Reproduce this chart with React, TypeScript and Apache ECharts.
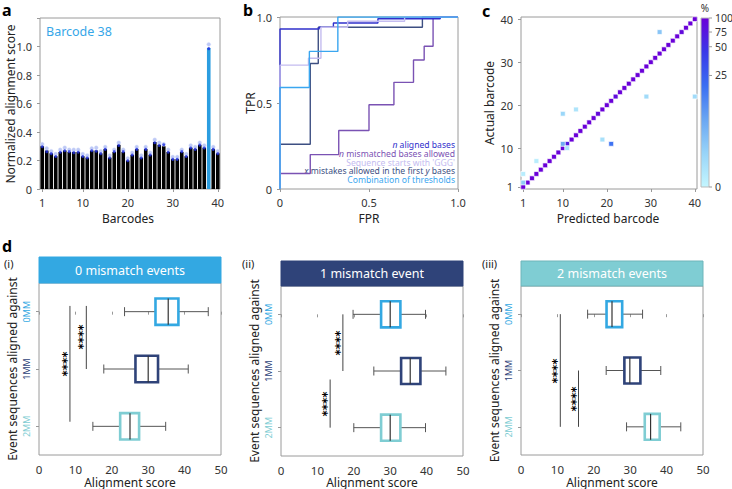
import { useEffect, useRef } from "react";
import * as echarts from "echarts";

const FONT = "'Noto Sans', 'DejaVu Sans', sans-serif";

// ---------- panel a ----------
const barcodeLabels = ["1","2","3","4","5","6","7","8","9","10","11","12","13","14","15","16","17","18","19","20","21","22","23","24","25","26","27","28","29","30","31","32","33","34","35","36","37","38","39","40"];
const highlightBarcode = "38";
const scoreMean = [0.30,0.27,0.25,0.23,0.26,0.27,0.26,0.26,0.26,0.23,0.22,0.27,0.27,0.25,0.28,0.22,0.26,0.31,0.26,0.20,0.24,0.28,0.22,0.28,0.24,0.33,0.31,0.30,0.26,0.21,0.21,0.26,0.23,0.29,0.28,0.31,0.29,0.99,0.28,0.25];
const scoreRepUpper = [0.315,0.285,0.265,0.245,0.275,0.29,0.275,0.275,0.275,0.245,0.235,0.285,0.29,0.265,0.295,0.235,0.275,0.325,0.275,0.215,0.255,0.295,0.235,0.295,0.255,0.345,0.325,0.315,0.275,0.225,0.225,0.275,0.245,0.305,0.295,0.325,0.305,1.015,0.295,0.265];
const scoreRepLower = [0.297,0.262,0.248,0.228,0.258,0.268,0.262,0.255,0.258,0.228,0.218,0.268,0.265,0.248,0.278,0.218,0.262,0.305,0.262,0.198,0.238,0.278,0.218,0.278,0.238,0.325,0.305,0.31,0.258,0.208,0.208,0.262,0.228,0.288,0.278,0.308,0.288,0.985,0.278,0.248];

// ---------- panel b (ROC points, FPR/TPR) ----------
const rocAligned = [[0,0],[0,0.93],[0.22,0.94],[0.3,0.965],[0.55,0.99],[0.9,1],[1,1]];
const rocMismatch = [[0,0],[0,0.09],[0.17,0.2],[0.33,0.34],[0.5,0.49],[0.64,0.62],[0.75,0.75],[0.81,0.83],[0.86,1],[1,1]];
const rocGGG = [[0,0],[0,0.72],[0.16,0.76],[0.23,0.94],[0.38,0.975],[0.7,1],[1,1]];
const rocFirstY = [[0,0],[0,0.26],[0.17,0.73],[0.215,0.94],[0.8,1],[1,1]];
const rocCombined = [[0,0],[0,0.59],[0.165,0.8],[0.325,1],[1,1]];

// ---------- panel c ----------
const heatDiagonalPct = [100,100,100,100,100,100,100,100,100,96,70,100,100,100,100,100,100,93,100,100,100,88,100,100,100,100,100,100,100,100,100,100,100,100,100,100,90,100,100,100];
const heatOffDiag = [[1,2,9],[1,4,2],[4,7,2],[10,18,7],[13,19,4],[10,11,14],[11,10,4],[19,12,5],[21,11,22],[29,22,6],[32,37,10],[40,22,6]];
const colorbarTicks = [0,25,50,75,100];
const colorbarTickPos = [0,0.66,0.83,0.917,1];
const heatColors = ["#c4f6ff","#98d4f8","#6aa6f2","#3a6ef2","#3a38e8","#6a00d8"];

// ---------- panel d ----------
const mmCategories = ["0MM","1MM","2MM"];
const mmColors = ["#33a8e2","#2f4379","#7fcdd3"];
// [category, min, q1, median, q3, max]
const boxI = [[0,23.5,32,35.5,38.3,46.5],[1,17.8,26.5,30,32.7,41],[2,14.8,22.3,25,27.5,34.8]];
const boxII = [[0,19.8,27.5,30,32.8,39.7],[1,25.5,33,35.5,38.3,45.3],[2,20,27.5,30,32.8,39.7]];
const boxIII = [[0,18.3,23.5,25,27.8,33.4],[1,23.4,28.4,29.9,32.8,38.4],[2,29,34,35.6,38.1,43.9]];
// [x, from category, to category]
const sigI = [[8.5,-0.1,1.92],[13,-0.1,1.0]];
const sigII = [[17,0,1],[13.5,1.15,2]];
const sigIII = [[10.8,0,2],[15.8,1,2]];
const panelTitles = ["0 mismatch events","1 mismatch event","2 mismatch events"];

function interpPos(p: number) {
  for (let i = 1; i < colorbarTicks.length; i++) {
    if (p <= colorbarTicks[i]) {
      const a = colorbarTicks[i - 1], b = colorbarTicks[i];
      return colorbarTickPos[i - 1] + ((p - a) / (b - a)) * (colorbarTickPos[i] - colorbarTickPos[i - 1]);
    }
  }
  return 1;
}

const tickLabel = { fontFamily: FONT, fontSize: 11, color: "#333" };
const tickStyle = { show: true, length: 3, lineStyle: { color: "#999" } };

export default function App() {
  const ref = useRef<HTMLDivElement>(null);
  useEffect(() => {
    if (!ref.current) return;
    const chart = echarts.init(ref.current, null, { renderer: "svg" });

    const showIdx = (i: number) => i === 0 || i === 9 || i === 19 || i === 29 || i === 39;

    const heatData: any[] = [];
    heatDiagonalPct.forEach((p, i) => heatData.push([i, i, p, interpPos(p)]));
    heatOffDiag.forEach(([x, y, p]) => heatData.push([x - 1, y - 1, p, interpPos(p)]));

    const boxRender = (params: any, api: any) => {
      const cat = api.value(0);
      const lo = api.coord([api.value(1), cat]);
      const q1 = api.coord([api.value(2), cat]);
      const md = api.coord([api.value(3), cat]);
      const q3 = api.coord([api.value(4), cat]);
      const hi = api.coord([api.value(5), cat]);
      const y = lo[1];
      const bh = Math.abs(api.size([0, 1])[1]) * 0.46;
      const cap = 4.5;
      const color = mmColors[cat];
      const wl = { stroke: "#555", lineWidth: 1 };
      return {
        type: "group",
        children: [
          { type: "line", shape: { x1: lo[0], y1: y, x2: q1[0], y2: y }, style: wl },
          { type: "line", shape: { x1: q3[0], y1: y, x2: hi[0], y2: y }, style: wl },
          { type: "line", shape: { x1: lo[0], y1: y - cap, x2: lo[0], y2: y + cap }, style: wl },
          { type: "line", shape: { x1: hi[0], y1: y - cap, x2: hi[0], y2: y + cap }, style: wl },
          { type: "rect", shape: { x: q1[0], y: y - bh / 2, width: q3[0] - q1[0], height: bh }, style: { fill: "#fff", stroke: color, lineWidth: 2.6 } },
          { type: "line", shape: { x1: md[0], y1: y - bh / 2, x2: md[0], y2: y + bh / 2 }, style: { stroke: "#333", lineWidth: 1.2 } },
        ],
      };
    };
    const sigRender = (params: any, api: any) => {
      const a = api.coord([api.value(0), api.value(1)]);
      const b = api.coord([api.value(0), api.value(2)]);
      return {
        type: "group",
        children: [
          { type: "line", shape: { x1: a[0], y1: a[1], x2: b[0], y2: b[1] }, style: { stroke: "#444", lineWidth: 1 } },
          { type: "text", x: Math.round(a[0] - 9), y: Math.round((a[1] + b[1]) / 2), rotation: Math.PI / 2, style: { text: "****", align: "center", verticalAlign: "top", fontSize: 12, fontWeight: "bold", fontFamily: "'DejaVu Sans', sans-serif", fill: "#000" } },
        ],
      };
    };

    const dGrids = [
      { left: 39, top: 283, width: 182, height: 172 },
      { left: 281, top: 286, width: 182, height: 170 },
      { left: 521, top: 286, width: 182, height: 169 },
    ];
    const headerTops = [257, 261, 261];

    const gridBase = { show: true, borderColor: "#9a9a9a", borderWidth: 1, backgroundColor: "transparent", containLabel: false };

    const xAxes: any[] = [
      { gridIndex: 0, type: "category", data: barcodeLabels, boundaryGap: true, axisLine: { show: false }, axisTick: { ...tickStyle, alignWithLabel: true, interval: (i: number) => showIdx(i) }, axisLabel: { ...tickLabel, interval: (i: number) => showIdx(i) } },
      { gridIndex: 1, type: "value", min: 0, max: 1, interval: 0.5, axisLine: { show: false }, axisTick: tickStyle, splitLine: { show: false }, axisLabel: { ...tickLabel, formatter: (v: number) => (v === 0 ? "0" : v.toFixed(1)) } },
      { gridIndex: 2, type: "category", data: barcodeLabels, boundaryGap: true, axisLine: { show: false }, axisTick: { ...tickStyle, alignWithLabel: true, interval: (i: number) => showIdx(i) }, axisLabel: { ...tickLabel, interval: (i: number) => showIdx(i) } },
    ];
    const yAxes: any[] = [
      { gridIndex: 0, type: "value", min: 0, max: 1.2, interval: 0.2, axisLine: { show: false }, axisTick: tickStyle, splitLine: { show: false }, axisLabel: { ...tickLabel, formatter: (v: number) => (v === 0 ? "0" : v > 1.1 ? "" : v.toFixed(1)) } },
      { gridIndex: 1, type: "value", min: 0, max: 1, interval: 0.5, axisLine: { show: false }, axisTick: tickStyle, splitLine: { show: false }, axisLabel: { ...tickLabel, formatter: (v: number) => (v === 0 ? "0" : v.toFixed(1)) } },
      { gridIndex: 2, type: "category", data: barcodeLabels, boundaryGap: true, axisLine: { show: false }, axisTick: { ...tickStyle, alignWithLabel: true, interval: (i: number) => showIdx(i) }, axisLabel: { ...tickLabel, interval: (i: number) => showIdx(i) } },
    ];
    const rich: any = {};
    mmCategories.forEach((c, i) => (rich["c" + i] = { color: mmColors[i], fontSize: 9, fontFamily: FONT }));
    dGrids.forEach((g, k) => {
      xAxes.push({ gridIndex: 3 + k, type: "value", min: 0, max: 50, interval: 10, axisLine: { show: false }, axisTick: tickStyle, splitLine: { show: false }, axisLabel: { ...tickLabel, fontSize: 11.5 } });
      yAxes.push({
        gridIndex: 3 + k, type: "value", min: -0.5, max: 2.5, inverse: true, axisLine: { show: false }, splitLine: { show: false },
        axisTick: { ...tickStyle, customValues: [0, 1, 2] },
        axisLabel: { customValues: [0, 1, 2], rotate: 90, margin: 8, formatter: (v: number) => `{c${v}|${mmCategories[v]}}`, rich },
      });
    });

    const grids = [
      { ...gridBase, left: 40, top: 18, width: 180, height: 171 },
      { ...gridBase, left: 280, top: 17, width: 178, height: 172 },
      { ...gridBase, left: 521, top: 17, width: 176, height: 172 },
      ...dGrids.map((g) => ({ ...gridBase, ...g })),
    ];

    const rocLine = (data: number[][], color: string, name: string) => ({
      type: "line", name, xAxisIndex: 1, yAxisIndex: 1, data, step: "end", symbol: "none",
      lineStyle: { color, width: 1.4 },
    });

    const graphic: any[] = [];
    const txt = (text: string, x: number, y: number, o: any = {}) =>
      graphic.push({ type: "text", x, y, rotation: o.rotation || 0, style: { text, fontFamily: FONT, fontSize: o.fontSize || 12, fontWeight: o.fontWeight || "normal", fill: o.fill || "#222", align: o.align || "center", verticalAlign: o.verticalAlign || "middle", lineHeight: o.lineHeight, rich: o.rich } });

    const letter = { fontSize: 16, fontWeight: "bold", align: "left", verticalAlign: "top", fill: "#000" };
    txt("a", 2, 2, letter);
    txt("b", 243, 2, letter);
    txt("c", 482, 3, letter);
    txt("d", 2, 238, letter);
    txt("(i)", 4, 263, { fontSize: 11, align: "left" });
    txt("(ii)", 242, 263, { fontSize: 11, align: "left" });
    txt("(iii)", 482, 263, { fontSize: 11, align: "left" });

    txt("Barcode " + highlightBarcode, 46, 31, { fontSize: 12.5, fill: "#36a6e8", align: "left" });
    txt("Normalized alignment score", 10, 104, { rotation: Math.PI / 2, fontSize: 12 });
    txt("Barcodes", 128, 218, { fontSize: 12 });
    txt("TPR", 250, 103, { rotation: Math.PI / 2, fontSize: 12 });
    txt("FPR", 369, 218, { fontSize: 12 });
    txt("Actual barcode", 489, 103, { rotation: Math.PI / 2, fontSize: 12 });
    txt("Predicted barcode", 608, 218, { fontSize: 12 });

    // legend of panel b
    const legendItems = [
      { t: "{i|n} aligned bases", c: "#3030cc" },
      { t: "{i|n} mismatched bases allowed", c: "#7a52b3" },
      { t: "Sequence starts with 'GGG'", c: "#c4bcf0" },
      { t: "{i|x} mistakes allowed in the first {i|y} bases", c: "#3d4f82" },
      { t: "Combination of thresholds", c: "#3aa6f0" },
    ];
    legendItems.forEach((l, i) =>
      txt(l.t, 455, 145 + i * 8.8, { fontSize: 8.6, lineHeight: 8.6, fill: l.c, align: "right", rich: { i: { fontStyle: "italic", fill: l.c, fontSize: 8.6, lineHeight: 8.6, fontFamily: FONT } } })
    );

    // colour bar for panel c
    const cbX = 701, cbY = 18, cbW = 8, cbH = 169;
    graphic.push({
      type: "rect", shape: { x: cbX, y: cbY, width: cbW, height: cbH },
      style: {
        fill: new echarts.graphic.LinearGradient(0, 0, 0, 1, heatColors.slice().reverse().map((c, i) => ({ offset: i / (heatColors.length - 1), color: c }))),
        stroke: "#bbb", lineWidth: 1,
      },
    });
    colorbarTicks.forEach((t, i) => {
      const y = cbY + (1 - colorbarTickPos[i]) * cbH;
      graphic.push({ type: "line", shape: { x1: cbX + cbW, y1: y, x2: cbX + cbW + 3, y2: y }, style: { stroke: "#999", lineWidth: 1 } });
      txt(String(t), cbX + cbW + 6, y, { fontSize: 10.5, lineHeight: 11, align: "left", fill: "#333" });
    });
    txt("%", 705, 3, { fontSize: 10, verticalAlign: "top", fill: "#333" });

    // panel d headers & names
    dGrids.forEach((g, k) => {
      const top = headerTops[k];
      graphic.push({ type: "rect", shape: { x: g.left, y: top, width: g.width, height: g.top - top }, style: { fill: mmColors[k], stroke: k === 2 ? "#6fb5ba" : mmColors[k], lineWidth: 1 } });
      txt(panelTitles[k], g.left + g.width / 2, (top + g.top) / 2, { fontSize: 12.5, fill: "#fff" });
      txt("Event sequences aligned against", g.left - 27, g.top + g.height / 2, { rotation: Math.PI / 2, fontSize: 12 });
      txt("Alignment score", g.left + g.width / 2, 482, { fontSize: 12 });
    });

    const series: any[] = [
      {
        type: "bar", xAxisIndex: 0, yAxisIndex: 0, barWidth: "80%",
        data: scoreMean.map((v, i) => ({ value: v, itemStyle: { color: barcodeLabels[i] === highlightBarcode ? "#2b9de0" : "#000" } })),
      },
      { type: "scatter", xAxisIndex: 0, yAxisIndex: 0, data: scoreRepUpper, symbolSize: 4, itemStyle: { color: "#aebcf2", borderColor: "#dfe6ff", borderWidth: 0.5 } },
      { type: "scatter", xAxisIndex: 0, yAxisIndex: 0, data: scoreRepLower, symbolSize: 3, itemStyle: { color: "#1f30e0" } },
      rocLine(rocFirstY, "#3d4f82", "x mistakes"),
      rocLine(rocMismatch, "#7a52b3", "n mismatched"),
      rocLine(rocAligned, "#3030cc", "n aligned"),
      rocLine(rocGGG, "#c4bcf0", "GGG"),
      rocLine(rocCombined, "#3aa6f0", "Combination"),
      { type: "heatmap", xAxisIndex: 2, yAxisIndex: 2, data: heatData, encode: { x: 0, y: 1 }, itemStyle: { borderColor: "#fff", borderWidth: 0.7 } },
    ];
    const heatIdx = series.length - 1;
    [boxI, boxII, boxIII].forEach((b, k) => {
      series.push({ type: "custom", xAxisIndex: 3 + k, yAxisIndex: 3 + k, data: b, renderItem: boxRender, itemStyle: { color: "#111" }, encode: { x: [1, 2, 3, 4, 5], y: 0 } });
    });
    [sigI, sigII, sigIII].forEach((s, k) => {
      series.push({ type: "custom", xAxisIndex: 3 + k, yAxisIndex: 3 + k, data: s, renderItem: sigRender, itemStyle: { color: "#111" }, encode: { x: 0, y: [1, 2] } });
    });

    chart.setOption({
      animation: false,
      color: ["#111"],
      textStyle: { fontFamily: FONT },
      grid: grids,
      xAxis: xAxes,
      yAxis: yAxes,
      visualMap: { type: "continuous", show: false, seriesIndex: heatIdx, dimension: 3, min: 0, max: 1, inRange: { color: heatColors } },
      series,
      graphic,
    });
    return () => chart.dispose();
  }, []);
  return <div ref={ref} style={{ position: "fixed", left: 0, top: 0, width: 732, height: 489, background: "#fff" }} />;
}
